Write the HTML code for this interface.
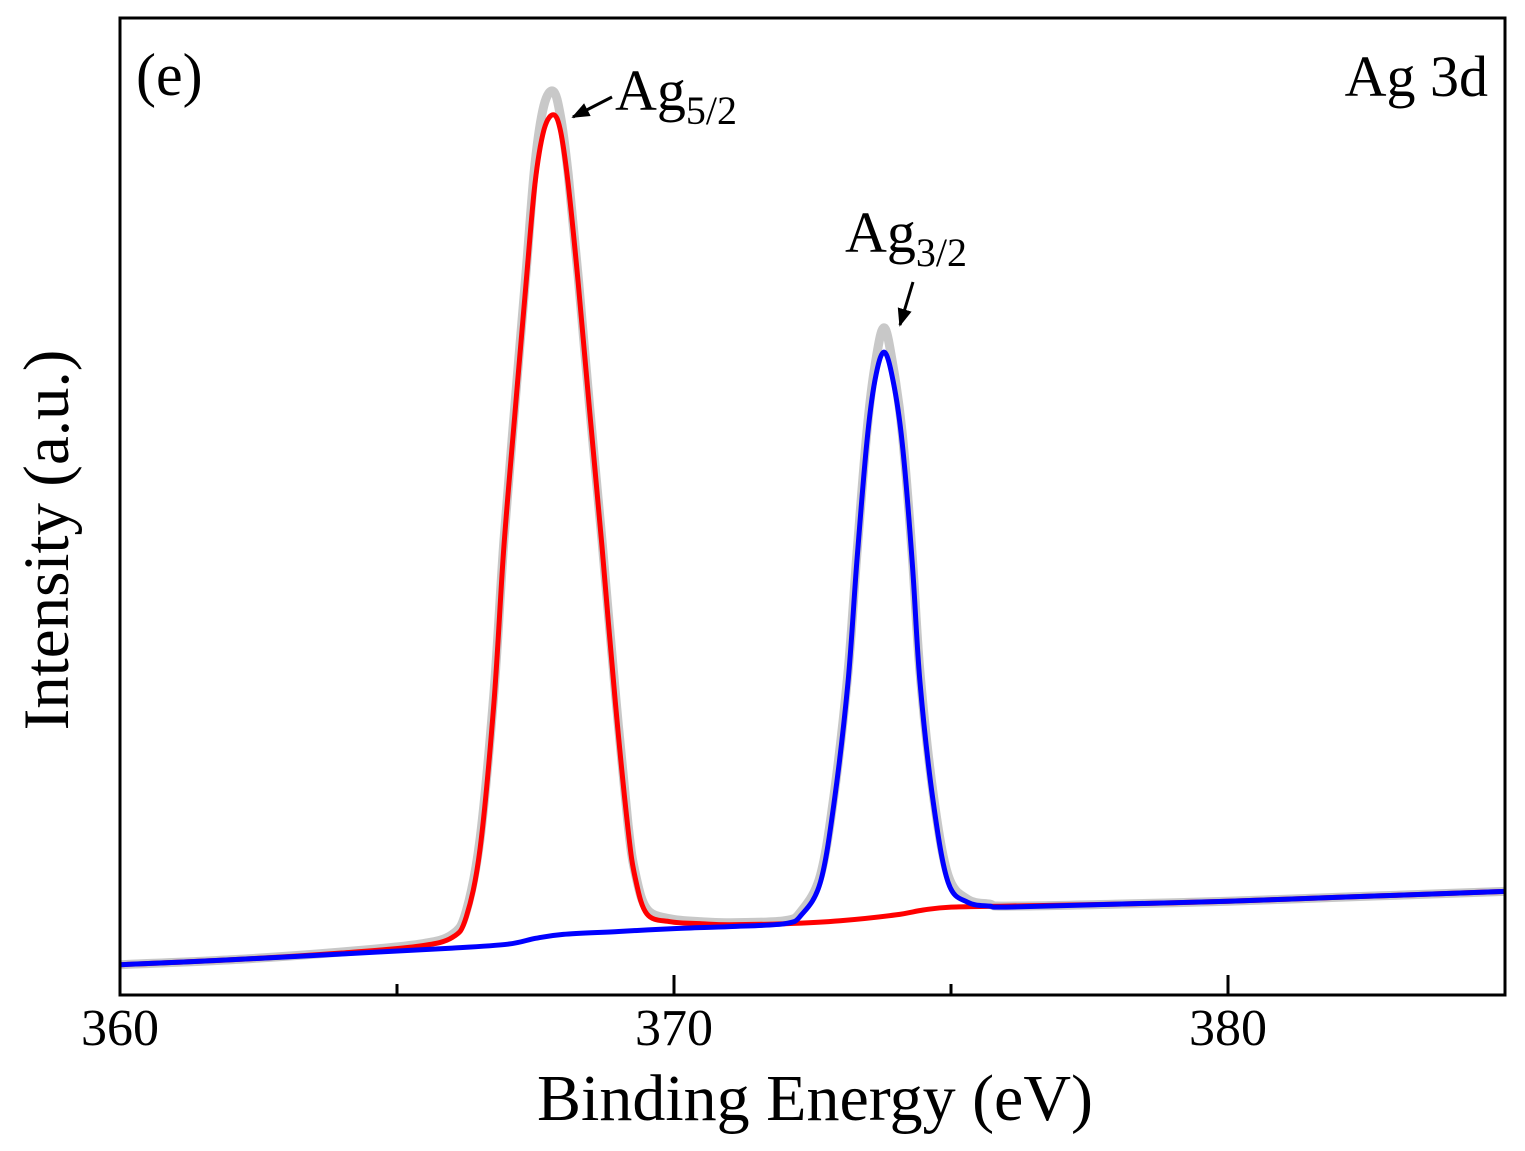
<!DOCTYPE html>
<html><head><meta charset="utf-8"><style>
body{margin:0;background:#fff;}
svg{display:block;font-family:"Liberation Serif",serif;}
</style></head><body>
<svg id="chart" width="1525" height="1151" viewBox="0 0 1525 1151" xmlns="http://www.w3.org/2000/svg">
<defs><marker id="ah" viewBox="0 0 10 10" refX="9" refY="5" markerWidth="6" markerHeight="6" orient="auto"><path d="M0,1 L10,5 L0,9 z" fill="#000"/></marker></defs>
<g id="series"></g>
<rect x="120" y="18" width="1385" height="977" fill="none" stroke="#000" stroke-width="3"/>
<g id="ticks"></g>
<text x="136" y="95" font-size="60">(e)</text>
<text x="1488" y="96" font-size="58" text-anchor="end">Ag 3d</text>
<text x="615" y="110" font-size="58">Ag<tspan font-size="40" dy="14">5/2</tspan></text>
<text x="845" y="252" font-size="58">Ag<tspan font-size="40" dy="14">3/2</tspan></text>
<line x1="612" y1="97" x2="573" y2="117" stroke="#000" stroke-width="3" marker-end="url(#ah)"/>
<line x1="913" y1="282" x2="900" y2="325" stroke="#000" stroke-width="3" marker-end="url(#ah)"/>
<text x="815" y="1120" font-size="66" text-anchor="middle">Binding Energy (eV)</text>
<text transform="translate(68,540) rotate(-90)" font-size="65" text-anchor="middle">Intensity (a.u.)</text>
</svg>
<script>
const xMajorTicks=[360,370,380];
const xMinorTicks=[365,375];
const redX=[360,362,364,365.4,366.0,366.25,366.5,366.75,366.93,367.13,367.33,367.49,367.65,367.82,367.95,368.09,368.27,368.48,368.7,368.94,369.17,369.3,369.51,369.93,370.5,371,372,373,374,374.5,375,376,378,380,382,384,385];
const redY=[3.1,3.6,4.3,5.0,5.9,8,15,30,45.9,59.6,72.9,83,88.5,90.1,88.5,83,72.9,59.6,45.9,30,17,12,8.3,7.5,7.3,7.2,7.3,7.6,8.2,8.7,9.0,9.1,9.3,9.6,10,10.4,10.6];
const blueX=[360,362,364,366,367,367.5,368,369,370,371,372,372.3,372.64,372.89,373.14,373.3,373.48,373.63,373.79,373.95,374.12,374.3,374.44,374.68,374.95,375.3,375.7,376,378,380,382,384,385];
const blueY=[3.1,3.6,4.2,4.8,5.2,5.8,6.2,6.5,6.8,7.0,7.3,8.2,11.5,19.7,32,44.3,56.5,63,65.8,63,56.5,44.3,32,19.7,11.5,9.5,9.1,9.0,9.3,9.6,10,10.4,10.6];
const grayX=[360,362,364,365.4,366.0,366.25,366.5,366.75,366.93,367.13,367.33,367.49,367.65,367.82,367.95,368.09,368.27,368.48,368.7,368.94,369.17,369.3,369.51,369.93,370.5,371,372,372.3,372.64,372.89,373.14,373.3,373.48,373.63,373.79,373.95,374.12,374.3,374.44,374.68,374.95,375.3,375.7,376,378,380,382,384,385];
const grayY=[3.1,3.6,4.4,5.2,6.2,8.6,16,31,46.5,60.5,74,85,91,92.5,90,84,73.5,60,46.5,31,17.5,12.5,8.8,7.8,7.5,7.4,7.6,8.6,12.2,20.5,33,45,57.5,64.5,68.3,64.5,57.5,45,33,20.5,12.2,9.8,9.3,9.1,9.3,9.6,10,10.4,10.6];
const X0=120,X1=1505,Y0=995,Y1=18;
function sx(v){return X0+(v-360)/(385-360)*(X1-X0);}
function sy(v){return Y0-v/100*(Y0-Y1);}
const NS='http://www.w3.org/2000/svg';
const g=document.getElementById('series');
function smoothPath(pts){
  let d='M'+pts[0][0].toFixed(1)+','+pts[0][1].toFixed(1);
  for(let i=0;i<pts.length-1;i++){
    const p0=pts[Math.max(0,i-1)],p1=pts[i],p2=pts[i+1],p3=pts[Math.min(pts.length-1,i+2)];
    const c1x=p1[0]+(p2[0]-p0[0])/6,c1y=p1[1]+(p2[1]-p0[1])/6;
    const c2x=p2[0]-(p3[0]-p1[0])/6,c2y=p2[1]-(p3[1]-p1[1])/6;
    d+='C'+c1x.toFixed(1)+','+c1y.toFixed(1)+' '+c2x.toFixed(1)+','+c2y.toFixed(1)+' '+p2[0].toFixed(1)+','+p2[1].toFixed(1);
  }
  return d;
}
function line(xs,ys,color,w,name){
  const p=document.createElementNS(NS,'path');
  const pts=xs.map((x,i)=>[sx(x),sy(ys[i])]);
  p.setAttribute('d',smoothPath(pts));p.setAttribute('fill','none');p.setAttribute('stroke',color);
  p.setAttribute('stroke-width',w);p.setAttribute('stroke-linejoin','round');
  
  
  g.appendChild(p);
}
line(grayX,grayY,'#c8c8c8',9,'raw-data-line');
line(redX,redY,'#ff0000',5,'ag52-fit-line');
line(blueX,blueY,'#0000ff',5,'ag32-fit-line');
const t=document.getElementById('ticks');
xMajorTicks.forEach(v=>{
  const l=document.createElementNS(NS,'line');
  l.setAttribute('x1',sx(v));l.setAttribute('x2',sx(v));l.setAttribute('y1',Y0);l.setAttribute('y2',Y0-20);
  l.setAttribute('stroke','#000');l.setAttribute('stroke-width',3);
  
  
  t.appendChild(l);
  const tx=document.createElementNS(NS,'text');
  tx.setAttribute('x',sx(v));tx.setAttribute('y',1045);tx.setAttribute('font-size',52);tx.setAttribute('text-anchor','middle');
  tx.textContent=v;
  
  
  t.appendChild(tx);
});
xMinorTicks.forEach(v=>{
  const l=document.createElementNS(NS,'line');
  l.setAttribute('x1',sx(v));l.setAttribute('x2',sx(v));l.setAttribute('y1',Y0);l.setAttribute('y2',Y0-11);
  l.setAttribute('stroke','#000');l.setAttribute('stroke-width',3);
  
  
  t.appendChild(l);
});
</script>
</body></html>
